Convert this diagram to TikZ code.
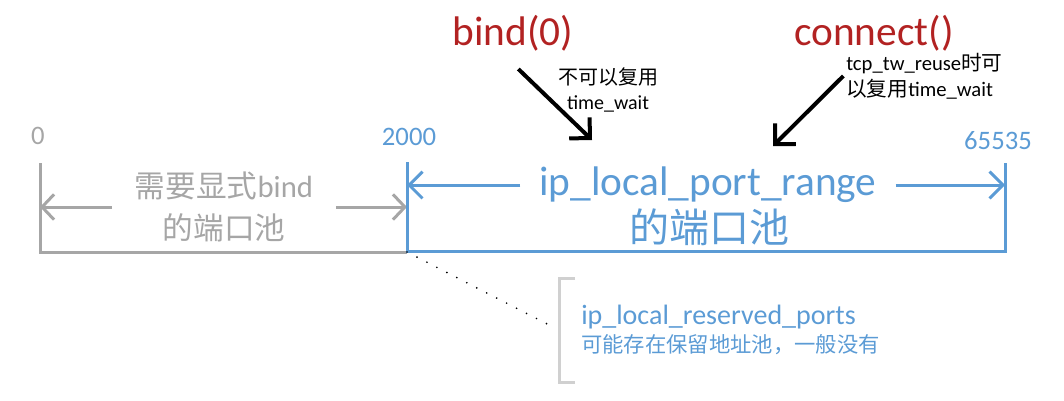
\documentclass[tikz,border=0pt]{standalone}
\usepackage{fontspec}
\setmainfont{Noto Sans CJK SC}
\newfontfamily\lat{Carlito}
\usetikzlibrary{arrows.meta}
\definecolor{poolblue}{RGB}{91,155,213}
\definecolor{poolgray}{RGB}{166,166,166}
\definecolor{callred}{RGB}{178,34,34}
\definecolor{bracegray}{RGB}{208,208,208}
\begin{document}
\begin{tikzpicture}[x=0.75pt, y=-0.75pt,
    grayline/.style={poolgray, line width=2.25pt},
    blueline/.style={poolblue, line width=2.25pt},
    grayarrow/.style={grayline, -{Straight Barb[length=9pt, width=19pt]}},
    bluearrow/.style={blueline, -{Straight Barb[length=10pt, width=20pt]}},
    callarrow/.style={line width=3pt, -{Straight Barb[length=11pt, width=22pt]}},
    num/.style={font=\lat\fontsize{20}{24}\selectfont}]
\useasboundingbox (0,0) rectangle (1064,400);

% port numbers
\node[num, poolgray] (n0) at (38,136) {0};
\node[num, poolblue] (n2000) at (409,137) {2000};
\node[num, poolblue] (n65535) at (998,141) {65535};

% bind pool
\coordinate (gtop) at (40,163);
\coordinate (gbot) at (40,252);
\coordinate (split) at (407,252);
\draw[grayline] (gtop)--(gbot)--(split);
\node[poolgray, align=center, font=\fontsize{23}{31.5}\selectfont, inner xsep=17pt] (gpool) at (224,207) {需要显式{\lat bind}\\的端口池};
\draw[grayarrow] (gpool.west)--(gpool.west-|gtop);
\draw[grayarrow] (gpool.east)--(gpool.east-|split);

% local port range
\coordinate (btop) at (407,162);
\coordinate (rtop) at (1005,163);
\coordinate (rbot) at (1005,251);
\draw[blueline] (btop)--(407,251)--(rbot)--(rtop);
\node[poolblue, font=\lat\fontsize{31}{36}\selectfont, inner xsep=14pt] (brange) at (708,185) {ip\_local\_port\_range};
\node[poolblue, font=\fontsize{30}{36}\selectfont] (bpool) at (709,227) {的端口池};
\draw[bluearrow] (brange.west)--(brange.west-|btop);
\draw[bluearrow] (brange.east)--(brange.east-|rtop);

% calls
\node[callred, font=\lat\fontsize{31}{36}\selectfont] (bind) at (513,33) {bind(0)};
\node[callred, font=\lat\fontsize{31}{36}\selectfont] (connect) at (874,33) {connect()};
\node[align=center, font=\fontsize{15}{18.75}\selectfont] (bindnote) at (608,90) {不可以复用\\{\lat time\_wait}};
\node[align=left, font=\fontsize{15.5}{19.5}\selectfont, anchor=west, inner sep=0pt] (connnote) at (846,76) {{\lat tcp\_tw\_reuse}时可\\以复用{\lat time\_wait}};
\coordinate (bindtip) at (592,140);
\coordinate (conntip) at (773,146);
\draw[callarrow] ([xshift=4pt, yshift=-10pt]bind.south)--(bindtip);
\draw[callarrow] ([xshift=-2pt]connnote.west)--(conntip);

% reserved ports
\coordinate (rsv) at (553,327);
\draw[line width=1.4pt, line cap=round, dash pattern=on 0pt off 8.4pt] (split)--(rsv);
\draw[bracegray, line width=2.25pt] (575,278)--(559,278)--(559,382)--(575,382);
\node[poolblue, anchor=west, inner sep=0pt, font=\lat\fontsize{21}{24}\selectfont] (resv) at (581,317) {ip\_local\_reserved\_ports};
\node[poolblue, anchor=west, inner sep=0pt, font=\fontsize{16}{20}\selectfont] (resvnote) at (581,345) {可能存在保留地址池，一般没有};
\end{tikzpicture}
\end{document}
